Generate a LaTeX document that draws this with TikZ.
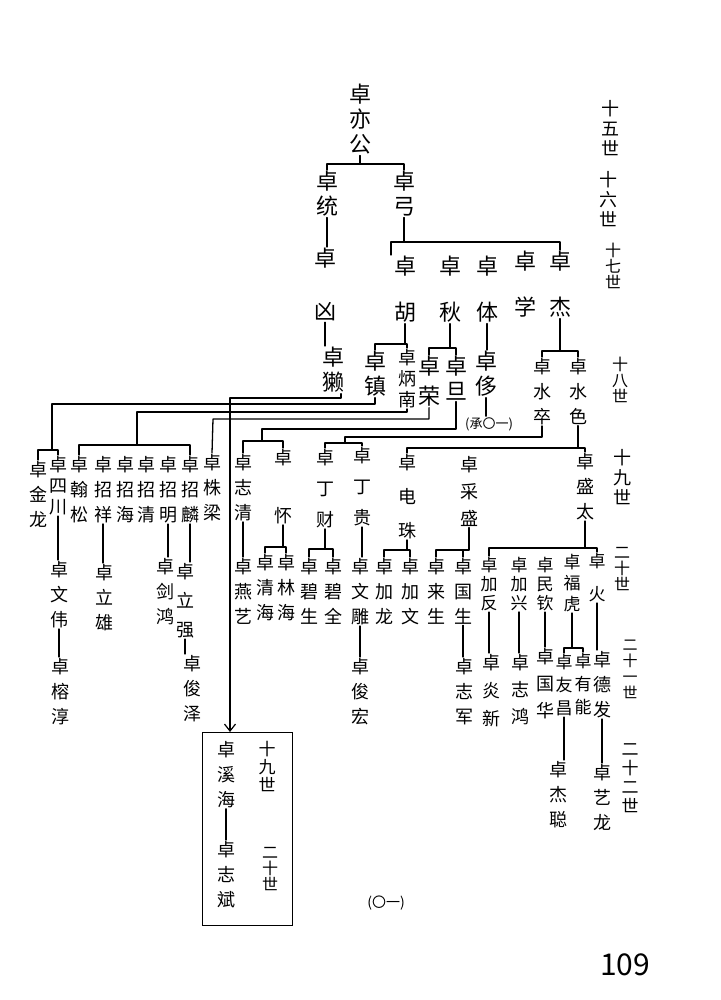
\documentclass[tikz,border=0pt]{standalone}
\usepackage{fontspec}
\newfontfamily\cjk{Noto Sans CJK SC}
\usetikzlibrary{arrows.meta}
\begin{document}
\begin{tikzpicture}[x=1pt,y=-1pt,
  bg/.style={font=\cjk\fontsize{22}{25}\selectfont, align=center, inner sep=1pt, anchor=north},
  nm/.style={font=\cjk\fontsize{18}{25}\selectfont, align=center, inner sep=1pt, anchor=north},
  tt/.style={font=\cjk\fontsize{18}{21}\selectfont, align=center, inner sep=1pt, anchor=north},
  sm/.style={font=\cjk\fontsize{17}{19}\selectfont, align=center, inner sep=1pt, anchor=north},
  gn/.style={font=\cjk\fontsize{18}{20}\selectfont, align=center, inner sep=0pt, anchor=north},
  gs/.style={font=\cjk\fontsize{16}{16}\selectfont, align=center, inner sep=0pt, anchor=north},
  gx/.style={font=\cjk\fontsize{15}{16}\selectfont, align=center, inner sep=0pt, anchor=north},
  ln/.style={line width=1.3pt, line cap=round, line join=round},
  arr/.style={-{Straight Barb[length=7pt,width=11pt,line width=1.2pt]}}]
\useasboundingbox[fill=white] (0,0) rectangle (720,1000);

% generation 15-17
\node[bg] (yi) at (360,83) {卓\\亦\\公};
\node[bg] (tong) at (327,170) {卓\\统};
\node[bg] (gong) at (404,170) {卓\\弓};
\draw[ln] (yi.south) -- (yi.south |- 0,164);
\draw[ln] (tong.north) |- (gong.north |- 0,164) -- (gong.north);
\node[bg] (xiong) at (325,247) {卓\\[28pt]凶};
\draw[ln] (tong.south) -- (tong.south |- xiong.north);
\node[bg] (ta) at (333,346) {卓\\獭};
\draw[ln] (xiong.south) -- (xiong.south |- ta.north);

\node[bg] (hu) at (405,255) {卓\\[21pt]胡};
\node[bg] (qiu) at (450,255) {卓\\[21pt]秋};
\node[bg] (ti) at (487,255) {卓\\[21pt]体};
\node[bg] (xue) at (525,250) {卓\\[21pt]学};
\node[bg] (jie) at (560,250) {卓\\[21pt]杰};
\draw[ln] (gong.south) -- (gong.south |- 0,242);
\draw[ln] ([xshift=-14pt]hu.north) |- (jie.north |- 0,242) -- (jie.north);

% generation 18
\node[bg] (zhen) at (375,350) {卓\\镇};
\node[tt] (bingnan) at (407,348) {卓\\炳\\南};
\draw[ln] (hu.south) -- (hu.south |- 0,344);
\draw[ln] (zhen.north) |- (bingnan.north |- 0,344) -- (bingnan.north);
\node[bg] (rong) at (429,355) {卓\\[5pt]荣};
\node[bg] (dan) at (456,355) {卓\\旦};
\draw[ln] (qiu.south) -- (qiu.south |- 0,348);
\draw[ln] (rong.north) |- (dan.north |- 0,348) -- (dan.north);
\node[bg] (ce) at (486,350) {卓\\侈};
\draw[ln] (ti.south) -- (ti.south |- ce.north);
\node[font=\cjk\fontsize{13}{13}\selectfont, inner sep=1pt] (cheng) at (489,424) {(承〇一)};
\draw[ln] (ce.south) -- (ce.south |- cheng.north);
\node[nm] (shuizu) at (542,357) {卓\\水\\卒};
\node[nm] (shuise) at (578,357) {卓\\水\\色};
\draw[ln] (jie.south) -- (jie.south |- 0,351);
\draw[ln] (shuizu.north) |- (shuise.north |- 0,351) -- (shuise.north);

% generation labels
\node[gn] (g15) at (610,100) {十\\五\\世};
\node[gn] (g16) at (608,171) {十\\六\\世};
\node[gs] (g17) at (613,243) {十\\七\\世};
\node[gs] (g18) at (620,357) {十\\八\\世};
\node[gn] (g19) at (622,449) {十\\九\\世};
\node[gs] (g20) at (622,547) {二\\十\\世};
\node[gx] (g21) at (630,640) {二\\十\\一\\世};
\node[font=\cjk\fontsize{17}{19}\selectfont, align=center, inner sep=0pt, anchor=north] (g22) at (630,743) {二\\十\\二\\世};

% generation 19
\node[nm] (jinlong) at (38,460) {卓\\金\\龙};
\node[tt] (sichuan) at (58,455) {卓\\四\\川};
\node[nm] (hansong) at (79,455) {卓\\翰\\松};
\node[nm] (zhaoxiang) at (103,455) {卓\\招\\祥};
\node[nm] (zhaohai) at (125,455) {卓\\招\\海};
\node[nm] (zhaoqing) at (146,455) {卓\\招\\清};
\node[nm] (zhaoming) at (168,455) {卓\\招\\明};
\node[nm] (zhaolin) at (190,455) {卓\\招\\麟};
\node[nm] (zhuliang) at (212,453) {卓\\株\\梁};
\node[nm] (zhiqing) at (243,453) {卓\\志\\清};
\node[nm] (huai) at (283,448) {卓\\[33pt]怀};
\node[nm] (dingcai) at (325,448) {卓\\[6pt]丁\\[6pt]财};
\node[nm] (dinggui) at (362,446) {卓\\[6pt]丁\\[6pt]贵};
\node[nm] (dianzhu) at (407,453) {卓\\[9pt]电\\[9pt]珠};
\node[nm] (caisheng) at (469,455) {卓\\[2pt]采\\[2pt]盛};
\node[nm] (shengtai) at (585,452) {卓\\盛\\太};

% box
\node[draw, line width=1.3pt, minimum width=90pt, minimum height=193pt, inner sep=0pt, anchor=north west] (box) at (202,732) {};
\node[nm] (xihai) at (226,740) {卓\\溪\\海};
\node[nm] (zhibin) at (226,840) {卓\\志\\斌};
\draw[ln] (xihai.south) -- (xihai.south |- zhibin.north);
\node[font=\cjk\fontsize{17}{18}\selectfont, align=center, inner sep=0pt, anchor=north] (b19) at (267,741) {十\\九\\世};
\node[gs] (b20) at (270,847) {二\\十\\世};

% gen 18 -> 19 connectors
\draw[ln,arr] ([xshift=8pt]ta.south) |- (230,398) -- (box.north -| 230,0);
\draw[ln] (zhen.south) |- (52,404) -- (52,450);
\draw[ln] (jinlong.north) |- (sichuan.north |- 0,450) -- (sichuan.north);
\draw[ln] (bingnan.south) |- (137,412) -- (137,445);
\draw[ln] (hansong.north) |- (zhaolin.north |- 0,445) -- (zhaolin.north);
\draw[ln] (rong.south) |- (213,419) -- (zhuliang.north);
\draw[ln] (dan.south) |- (262,429) -- (262,441);
\draw[ln] (zhiqing.north) |- (huai.north |- 0,441) -- (huai.north);
\draw[ln] (shuizu.south) |- (345,437) -- (345,443);
\draw[ln] (dingcai.north) |- (dinggui.north |- 0,443) -- (dinggui.north);
\draw[ln] (shuise.south) -- (shuise.south |- 0,448);
\draw[ln] (dianzhu.north) |- (shengtai.north |- 0,448) -- (shengtai.north);

% generation 20
\node[nm] (wenwei) at (59,560) {卓\\文\\伟};
\draw[ln] (sichuan.south) -- (sichuan.south |- wenwei.north);
\node[nm] (rongchun) at (60,657) {卓\\榕\\淳};
\draw[ln] (wenwei.south) -- (wenwei.south |- rongchun.north);
\node[nm] (lixiong) at (104,563) {卓\\立\\雄};
\draw[ln] (zhaoxiang.south) -- (zhaoxiang.south |- lixiong.north);
\node[nm] (jianhong) at (165,557) {卓\\剑\\鸿};
\draw[ln] (zhaoming.south) -- (zhaoming.south |- jianhong.north);
\node[nm] (liqiang) at (185,562) {卓\\[4pt]立\\[4pt]强};
\draw[ln] (zhaolin.south) -- (zhaolin.south |- liqiang.north);
\node[nm] (junze) at (192,654) {卓\\俊\\泽};
\draw[ln] (liqiang.south) -- (liqiang.south |- junze.north);
\node[nm] (yanyi) at (243,557) {卓\\燕\\艺};
\draw[ln] (zhiqing.south) -- (zhiqing.south |- yanyi.north);
\node[nm] (qinghai) at (265,553) {卓\\清\\海};
\node[nm] (linhai) at (286,553) {卓\\林\\海};
\draw[ln] (huai.south) -- (huai.south |- 0,547);
\draw[ln] (qinghai.north) |- (linhai.north |- 0,547) -- (linhai.north);
\node[nm] (bisheng) at (309,557) {卓\\碧\\生};
\node[nm] (biquan) at (333,557) {卓\\碧\\全};
\draw[ln] (dingcai.south) -- (dingcai.south |- 0,549);
\draw[ln] (bisheng.north) |- (biquan.north |- 0,549) -- (biquan.north);
\node[nm] (wendiao) at (360,557) {卓\\文\\雕};
\draw[ln] (dinggui.south) -- (dinggui.south |- wendiao.north);
\node[nm] (junhong) at (360,657) {卓\\俊\\宏};
\draw[ln] (wendiao.south) -- (wendiao.south |- junhong.north);
\node[nm] (jialong) at (384,557) {卓\\加\\龙};
\node[nm] (jiawen) at (410,557) {卓\\加\\文};
\draw[ln] (dianzhu.south) -- (dianzhu.south |- 0,550);
\draw[ln] (jialong.north) |- (jiawen.north |- 0,550) -- (jiawen.north);
\node[nm] (laisheng) at (436,557) {卓\\来\\生};
\node[nm] (guosheng) at (463,557) {卓\\国\\生};
\draw[ln] (caisheng.south) -- (caisheng.south |- 0,550);
\draw[ln] (laisheng.north) |- (caisheng.south |- 0,550);
\draw[ln] (guosheng.north) -- (guosheng.north |- 0,550);
\node[nm] (zhijun) at (464,657) {卓\\志\\军};
\draw[ln] (guosheng.south) -- (guosheng.south |- zhijun.north);
\node[sm] (jiafan) at (489,556) {卓\\加\\反};
\node[sm] (jiaxing) at (519,556) {卓\\加\\兴};
\node[sm] (minqin) at (545,556) {卓\\民\\钦};
\node[sm] (fuhu) at (572,553) {卓\\[2pt]福\\[2pt]虎};
\node[sm] (huo) at (597,552) {卓\\[14pt]火};
\draw[ln] (shengtai.south) -- (shengtai.south |- 0,548);
\draw[ln] (jiafan.north) |- (huo.north |- 0,548) -- (huo.north);

% generation 21-22
\node[nm] (yanxin) at (491,653) {卓\\[3pt]炎\\[3pt]新};
\draw[ln] (jiafan.south) -- (jiafan.south |- yanxin.north);
\node[nm] (zhihong) at (520,653) {卓\\[2pt]志\\[2pt]鸿};
\draw[ln] (jiaxing.south) -- (jiaxing.south |- zhihong.north);
\node[nm] (guohua) at (545,647) {卓\\[2pt]国\\[2pt]华};
\draw[ln] (minqin.south) -- (minqin.south |- guohua.north);
\node[sm] (youchang) at (564,653) {卓\\[4pt]友\\[4pt]昌};
\node[sm] (youneng) at (583,652) {卓\\[4pt]有\\[4pt]能};
\draw[ln] (fuhu.south) -- (fuhu.south |- 0,648);
\draw[ln] (youchang.north) |- (youneng.north |- 0,648) -- (youneng.north);
\node[nm] (defa) at (602,650) {卓\\德\\发};
\draw[ln] (huo.south) -- (huo.south |- defa.north);
\node[nm] (yilong) at (602,763) {卓\\艺\\龙};
\draw[ln] (defa.south) -- (defa.south |- yilong.north);
\node[nm] (jiecong) at (558,760) {卓\\杰\\聪};
\draw[ln] (youchang.south) -- (youchang.south |- jiecong.north);

% page marks
\node[font=\cjk\fontsize{14}{14}\selectfont, inner sep=0pt] (pg) at (386,903) {(〇一)};
\node[font=\cjk\fontsize{30}{30}\selectfont, inner sep=0pt] (num) at (625,965) {109};
\end{tikzpicture}
\end{document}
